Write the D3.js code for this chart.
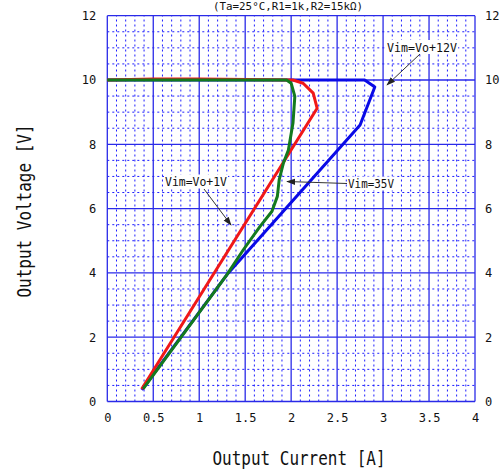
<!DOCTYPE html>
<html><head><meta charset="utf-8">
<script src="https://cdn.jsdelivr.net/npm/d3@7"></script>
<style>body{margin:0;background:#fff}</style></head>
<body>
<svg id="c" width="502" height="473"></svg>
<script>
// ---- data ----
const xTicks = [0, 0.5, 1, 1.5, 2, 2.5, 3, 3.5, 4];
const yTicks = [0, 2, 4, 6, 8, 10, 12];
const titleText = "(Ta=25\u00B0C,R1=1k,R2=15k\u03A9)";
const xLabel = "Output Current [A]";
const yLabel = "Output Voltage [V]";

// Vim = Vo+12V (blue)
const blueCurrent = [0.375, 1.30, 2.75, 2.91, 2.80, 0];
const blueVoltage = [0.36, 3.94, 8.60, 9.78, 10.0, 10.0];
// Vim = Vo+1V (red)
const redCurrent = [0.374, 2.283, 2.24, 2.13, 2.02, 1.0, 0.5, 0];
const redVoltage = [0.39, 9.12, 9.59, 9.90, 10.0, 10.03, 10.03, 10.0];
// Vim = 35V (green)
const greenCurrent = [0.39, 1.30, 1.48, 1.66, 1.79, 1.85, 1.87, 1.915, 1.97, 2.02, 2.04, 2.00, 1.95, 0];
const greenVoltage = [0.39, 3.94, 4.72, 5.44, 5.91, 6.38, 6.90, 7.41, 7.82, 8.66, 9.49, 9.90, 10.0, 10.0];

const seriesNames = ["Vim=Vo+12V", "Vim=Vo+1V", "Vim=35V"];

// ---- drawing ----
const svg = d3.select("#c");
const x = d3.scaleLinear().domain([0, 4]).range([107.3, 475]);
const y = d3.scaleLinear().domain([0, 12]).range([401.5, 15.7]);
const font = "'DejaVu Sans Mono', 'Liberation Mono', monospace";

svg.append("defs").append("marker")
  .attr("id", "ah").attr("viewBox", "0 0 10 10").attr("refX", 9).attr("refY", 5)
  .attr("markerWidth", 9).attr("markerHeight", 9).attr("markerUnits", "userSpaceOnUse")
  .attr("orient", "auto")
  .append("path").attr("d", "M0,1.5 L10,5 L0,8.5 Z").attr("fill", "#222");

const grid = svg.append("g");
// minor grid
grid.selectAll(".mx").data(d3.range(1, 40).filter(i => i % 5 !== 0).map(i => i / 10))
  .enter().append("line")
  .attr("x1", d => x(d)).attr("x2", d => x(d)).attr("y1", y(0)).attr("y2", y(12))
  .attr("stroke", "#1f1fff").attr("stroke-width", 1).attr("stroke-dasharray", "2,3");
grid.selectAll(".my").data(d3.range(1, 24).filter(i => i % 4 !== 0).map(i => i / 2))
  .enter().append("line")
  .attr("y1", d => y(d)).attr("y2", d => y(d)).attr("x1", x(0)).attr("x2", x(4))
  .attr("stroke", "#1f1fff").attr("stroke-width", 1).attr("stroke-dasharray", "2,3");
// major grid
grid.selectAll(".Mx").data(xTicks).enter().append("line")
  .attr("x1", d => x(d)).attr("x2", d => x(d)).attr("y1", y(0)).attr("y2", y(12))
  .attr("stroke", "#2a2ae8").attr("stroke-width", 1.3);
grid.selectAll(".My").data(yTicks).enter().append("line")
  .attr("y1", d => y(d)).attr("y2", d => y(d)).attr("x1", x(0)).attr("x2", x(4))
  .attr("stroke", "#2a2ae8").attr("stroke-width", 1.3);

// axes labels via d3 axes
const fmt = d => String(d);
const gx = svg.append("g").attr("transform", `translate(0,${y(0) + 9})`)
  .call(d3.axisBottom(x).tickValues(xTicks).tickFormat(fmt).tickSize(0));
const gyl = svg.append("g").attr("transform", `translate(${x(0) - 8},0)`)
  .call(d3.axisLeft(y).tickValues(yTicks).tickFormat(fmt).tickSize(0));
const gyr = svg.append("g").attr("transform", `translate(${x(4) + 7},0)`)
  .call(d3.axisRight(y).tickValues(yTicks).tickFormat(fmt).tickSize(0));
[gx, gyl, gyr].forEach(g => {
  g.select(".domain").remove();
  g.selectAll("text").attr("font-family", font).attr("font-size", 12).attr("fill", "#111");
});

// curves
const line = d3.line().x(d => x(d[0])).y(d => y(d[1]));
const zip = (a, b) => a.map((v, i) => [v, b[i]]);
svg.append("path").datum(zip(blueCurrent, blueVoltage)).attr("d", line)
  .attr("fill", "none").attr("stroke", "#0a0ae6").attr("stroke-width", 3).attr("stroke-linejoin", "round");
svg.append("path").datum(zip(redCurrent, redVoltage)).attr("d", line)
  .attr("fill", "none").attr("stroke", "#f01818").attr("stroke-width", 3).attr("stroke-linejoin", "round");
svg.append("path").datum(zip(greenCurrent, greenVoltage)).attr("d", line)
  .attr("fill", "none").attr("stroke", "#137a1e").attr("stroke-width", 3).attr("stroke-linejoin", "round");

// annotations
const notes = [
  {t: seriesNames[0], cx: 422, cy: 47, w: 70, ax1: 420, ay1: 54, ax2: 387, ay2: 85},
  {t: seriesNames[1], cx: 196, cy: 181.5, w: 62, ax1: 204, ay1: 189, ax2: 231, ay2: 225},
  {t: seriesNames[2], cx: 371, cy: 183.5, w: 46, ax1: 347, ay1: 183.5, ax2: 287, ay2: 181.5}
];
notes.forEach(n => {
  svg.append("line").attr("x1", n.ax1).attr("y1", n.ay1).attr("x2", n.ax2).attr("y2", n.ay2)
    .attr("stroke", "#333").attr("stroke-width", 1).attr("marker-end", "url(#ah)");
  svg.append("rect").attr("x", n.cx - n.w / 2 - 1).attr("y", n.cy - 7).attr("width", n.w + 2).attr("height", 14)
    .attr("fill", "#fff");
  svg.append("text").attr("x", n.cx).attr("y", n.cy + 4.5).attr("text-anchor", "middle")
    .attr("font-family", font).attr("font-size", 12).attr("fill", "#111")
    .attr("textLength", n.w).attr("lengthAdjust", "spacingAndGlyphs").text(n.t);
});

// title
svg.append("text").attr("x", 288).attr("y", 10).attr("text-anchor", "middle")
  .attr("font-family", font).attr("font-size", 11).attr("fill", "#111")
  .attr("textLength", 150).attr("lengthAdjust", "spacingAndGlyphs").text(titleText);

// axis titles
svg.append("text").attr("x", 299).attr("y", 465).attr("text-anchor", "middle")
  .attr("font-family", font).attr("font-size", 19).attr("fill", "#111")
  .attr("textLength", 173).attr("lengthAdjust", "spacingAndGlyphs").text(xLabel);
svg.append("text").attr("transform", "translate(31,211) rotate(-90)").attr("text-anchor", "middle")
  .attr("font-family", font).attr("font-size", 19).attr("fill", "#111")
  .attr("textLength", 173).attr("lengthAdjust", "spacingAndGlyphs").text(yLabel);
</script>
</body></html>
